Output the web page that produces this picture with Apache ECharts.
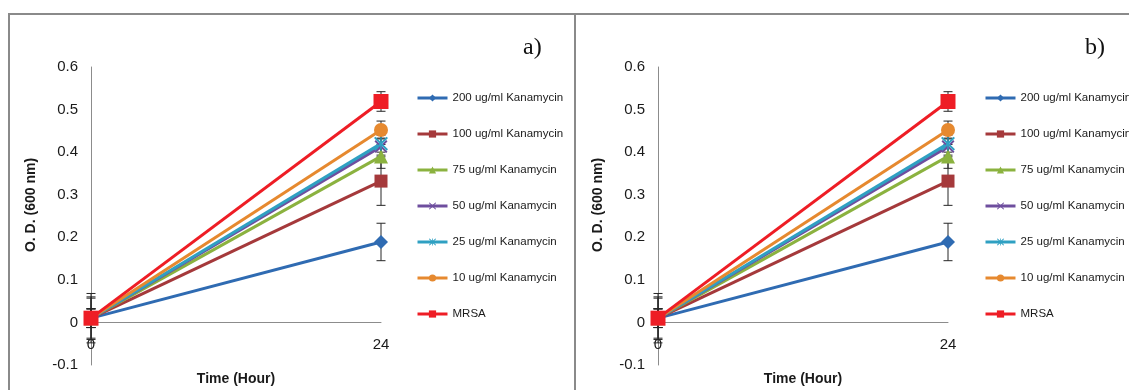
<!DOCTYPE html>
<html>
<head>
<meta charset="utf-8">
<script src="https://cdn.jsdelivr.net/npm/echarts@6/dist/echarts.min.js"></script>
<style>
  html, body { margin: 0; padding: 0; background: #ffffff; }
  #chart { width: 1129px; height: 390px; }
</style>
</head>
<body>
<div id="chart"></div>
<script>
// Sampling times (hours)
const hours = ['0', '24'];

// Treatment groups
const seriesNames = [
  '200 ug/ml Kanamycin',
  '100 ug/ml Kanamycin',
  '75 ug/ml Kanamycin',
  '50 ug/ml Kanamycin',
  '25 ug/ml Kanamycin',
  '10 ug/ml Kanamycin',
  'MRSA'
];

// Mean O.D. (600 nm) at 0 h and 24 h
const kan200 = [0.010, 0.189];
const kan100 = [0.010, 0.332];
const kan75  = [0.010, 0.390];
const kan50  = [0.010, 0.413];
const kan25  = [0.010, 0.420];
const kan10  = [0.010, 0.452];
const mrsa   = [0.010, 0.519];

// Error (+/-) at 0 h and 24 h
const kan200Err = [0.058, 0.044];
const kan100Err = [0.050, 0.057];
const kan75Err  = [0.047, 0.028];
const kan50Err  = [0.022, 0.020];
const kan25Err  = [0.022, 0.020];
const kan10Err  = [0.022, 0.021];
const mrsaErr   = [0.022, 0.023];

// Y-axis range
const yMin = -0.1;
const yMax = 0.6;
const yStep = 0.1;

const means = [kan200, kan100, kan75, kan50, kan25, kan10, mrsa];
const errors = [kan200Err, kan100Err, kan75Err, kan50Err, kan25Err, kan10Err, mrsaErr];

const colors = ['#2F6BB2', '#A5393B', '#8BB23F', '#6E4E9E', '#2FA0C2', '#E6892F', '#EE1D25'];
const xPath = 'path://M0,2 L2,0 L10,8 L18,0 L20,2 L12,10 L20,18 L18,20 L10,12 L2,20 L0,18 L8,10 Z';
const starPath = 'path://M0,2 L2,0 L10,8 L18,0 L20,2 L12,10 L20,18 L18,20 L10,12 L2,20 L0,18 L8,10 Z M9,0 L11,0 L11,20 L9,20 Z';
const symbols = ['diamond', 'rect', 'triangle', xPath, starPath, 'circle', 'rect'];
const symbolSizes = [14, 13, 14, 13, 14, 14, 15];

const SANS = '"Liberation Sans", Arial, sans-serif';
const AXIS_GRAY = '#8c8c8c';

const panels = [
  { gridLeft: 91, legendLeft: 416, tag: 'a)', tagX: 523 },
  { gridLeft: 658, legendLeft: 984, tag: 'b)', tagX: 1085 }
];

const grids = [], xAxes = [], yAxes = [], legends = [], series = [];

panels.forEach((p, pi) => {
  grids.push({ left: p.gridLeft, top: 67, width: 290, height: 298, outerBoundsMode: 'none', containLabel: false });

  // Category labels sit just under the zero line, between it and the plot bottom
  xAxes.push({
    type: 'category',
    gridIndex: pi,
    data: hours,
    boundaryGap: false,
    axisLine: { onZero: true, lineStyle: { color: AXIS_GRAY, width: 1 } },
    axisTick: { show: false },
    axisLabel: { fontFamily: SANS, fontSize: 15, color: '#1a1a1a', margin: -28 },
    splitLine: { show: false },
    name: 'Time (Hour)',
    nameLocation: 'middle',
    nameGap: 7,
    nameTextStyle: { fontFamily: SANS, fontSize: 14, fontWeight: 'bold', color: '#1a1a1a' }
  });

  yAxes.push({
    type: 'value',
    gridIndex: pi,
    min: yMin,
    max: yMax,
    interval: yStep,
    axisLine: { show: true, lineStyle: { color: AXIS_GRAY, width: 1 } },
    axisTick: { show: false },
    splitLine: { show: false },
    axisLabel: {
      fontFamily: SANS, fontSize: 15, color: '#1a1a1a', margin: 13,
      formatter: v => (Math.abs(v) < 1e-9 ? '0' : v.toFixed(1))
    },
    name: 'O. D. (600 nm)',
    nameLocation: 'middle',
    nameGap: 53,
    nameTextStyle: { fontFamily: SANS, fontSize: 14, fontWeight: 'bold', color: '#1a1a1a', padding: [0, 0, 0, 22] }
  });

  legends.push({
    orient: 'vertical',
    left: p.legendLeft,
    top: 91,
    padding: 0,
    itemWidth: 30,
    itemHeight: 9,
    itemGap: 22,
    selectedMode: false,
    data: seriesNames,
    lineStyle: { width: 3 },
    textStyle: { fontFamily: SANS, fontSize: 11.5, color: '#1a1a1a', lineHeight: 14 }
  });

  // Error bars (drawn beneath the lines and markers)
  const errData = [];
  means.forEach((m, si) => {
    m.forEach((v, hi) => {
      errData.push([hi, v - errors[si][hi], v + errors[si][hi]]);
    });
  });
  series.push({
    type: 'custom',
    name: 'errors',
    xAxisIndex: pi,
    yAxisIndex: pi,
    z: 1,
    silent: true,
    encode: { x: 0, y: [1, 2] },
    data: errData,
    renderItem: (params, api) => {
      const x = api.value(0);
      const lo = api.coord([x, api.value(1)]);
      const hi = api.coord([x, api.value(2)]);
      const w = 4.5;
      const st = { stroke: '#262626', lineWidth: 1 };
      return {
        type: 'group',
        children: [
          { type: 'line', shape: { x1: lo[0], y1: lo[1], x2: hi[0], y2: hi[1] }, style: st },
          { type: 'line', shape: { x1: lo[0] - w, y1: lo[1], x2: lo[0] + w, y2: lo[1] }, style: st },
          { type: 'line', shape: { x1: hi[0] - w, y1: hi[1], x2: hi[0] + w, y2: hi[1] }, style: st }
        ]
      };
    }
  });

  seriesNames.forEach((name, si) => {
    series.push({
      type: 'line',
      name: name,
      xAxisIndex: pi,
      yAxisIndex: pi,
      data: means[si],
      symbol: symbols[si],
      symbolSize: symbolSizes[si],
      showSymbol: true,
      z: 2,
      lineStyle: { width: 3, color: colors[si] },
      itemStyle: { color: colors[si] }
    });
  });
});

const chart = echarts.init(document.getElementById('chart'), null, { renderer: 'canvas' });
chart.setOption({
  backgroundColor: '#ffffff',
  animation: false,
  grid: grids,
  xAxis: xAxes,
  yAxis: yAxes,
  legend: legends,
  series: series,
  graphic: [
    { type: 'line', shape: { x1: 8, y1: 14, x2: 1129, y2: 14 }, style: { stroke: '#8a8a8a', lineWidth: 2 }, silent: true },
    { type: 'line', shape: { x1: 9, y1: 13, x2: 9, y2: 390 }, style: { stroke: '#8a8a8a', lineWidth: 2 }, silent: true },
    { type: 'line', shape: { x1: 575, y1: 13, x2: 575, y2: 390 }, style: { stroke: '#8a8a8a', lineWidth: 2 }, silent: true },
    ...panels.map(p => ({
      type: 'text',
      left: p.tagX,
      top: 36,
      style: { text: p.tag, font: '24px "Liberation Serif", "Times New Roman", serif', fill: '#111111' },
      silent: true
    }))
  ]
});
</script>
</body>
</html>
